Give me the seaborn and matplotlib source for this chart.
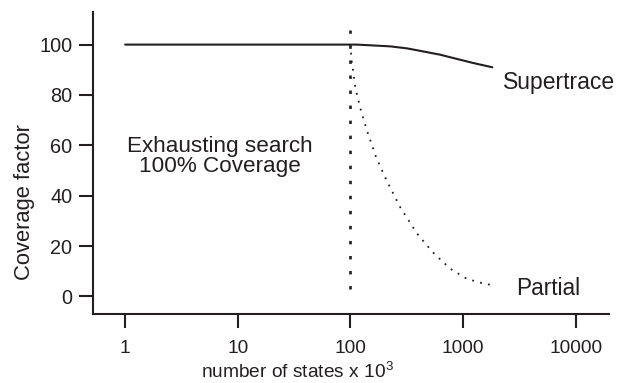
import matplotlib
matplotlib.use("Agg")
import matplotlib.pyplot as plt
import seaborn as sns
import pandas as pd

# values
supertrace_x = [1, 100, 115, 226, 319, 442, 625, 885, 1230, 1820]
supertrace_y = [100, 100, 100, 99.3, 98.5, 97.3, 96.0, 94.3, 92.7, 91.0]

partial_x = [100, 103, 110.7, 122, 140, 170, 210, 277, 390, 540, 770, 1080, 1550, 1900]
partial_y = [100, 93, 83, 75, 66, 55, 46, 35.4, 25, 17.5, 11, 7, 5, 4.4]

limit_x = [100, 100]
limit_y = [3, 106]

x_ticks = [1, 10, 100, 1000, 10000]
y_ticks = [0, 20, 40, 60, 80, 100]

sns.set_theme(style="ticks")
plt.rcParams["font.family"] = ["Liberation Sans", "DejaVu Sans"]
plt.rcParams["mathtext.default"] = "regular"

ink = "#231f20"

fig = plt.figure(figsize=(6.21, 3.83), dpi=100)
ax = fig.add_axes([0.150, 0.180, 0.830, 0.789])

sup = pd.DataFrame({"x": supertrace_x, "y": supertrace_y})
par = pd.DataFrame({"x": partial_x, "y": partial_y})
lim = pd.DataFrame({"x": limit_x, "y": limit_y})

sns.lineplot(data=sup, x="x", y="y", ax=ax, color=ink, lw=1.5)
sns.lineplot(data=par, x="x", y="y", ax=ax, color=ink, lw=1.3,
             linestyle=(0, (1, 3.5)), sort=False)
sns.lineplot(data=lim, x="x", y="y", ax=ax, color=ink, lw=1.9,
             linestyle=(0, (1.3, 4.4)), sort=False, estimator=None)

ax.set_xscale("log")
ax.set_xlim(0.52, 19600)
ax.set_ylim(-7, 113)
ax.set_xticks(x_ticks)
ax.set_xticklabels([str(t) for t in x_ticks])
ax.xaxis.set_minor_locator(matplotlib.ticker.NullLocator())
ax.set_yticks(y_ticks)

ax.tick_params(axis="both", direction="out", length=10, width=1.5, colors=ink)
ax.tick_params(axis="x", labelsize=13.7, pad=9)
ax.tick_params(axis="y", labelsize=14.3, pad=5)
for side in ["left", "bottom"]:
    ax.spines[side].set_linewidth(1.5)
    ax.spines[side].set_color(ink)
sns.despine(ax=ax)

# axis titles sit off-centre in the original
ax.set_xlabel("number of states x 10$^3$", fontsize=13.8, color=ink,
              va="center", ha="center")
ax.set_ylabel("Coverage factor", fontsize=15.8, color=ink,
              va="center", ha="center")
ax.xaxis.set_label_coords(0.396, -0.192)
ax.yaxis.set_label_coords(-0.134, 0.37)

ax.text(6.9, 55.5, "Exhausting search\n100% Coverage", ha="center", va="center",
        fontsize=16.2, color=ink, linespacing=0.95)
ax.text(2250, 85, "Supertrace", ha="left", va="center", fontsize=16.5, color=ink)
ax.text(2960, 3.2, "Partial", ha="left", va="center", fontsize=16.3, color=ink)

fig.savefig("out.png", dpi=100)
plt.close(fig)
